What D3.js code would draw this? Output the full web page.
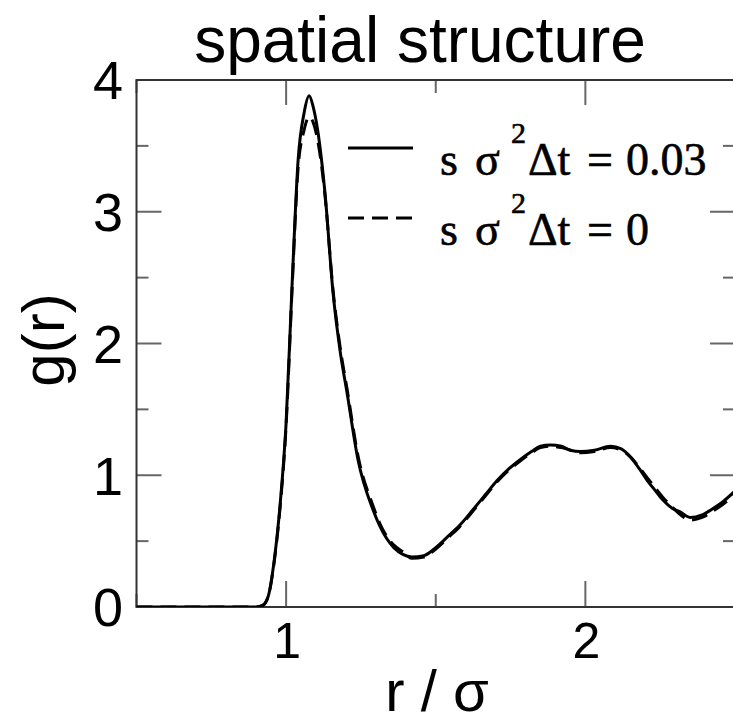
<!DOCTYPE html>
<html><head><meta charset="utf-8">
<script src="https://cdn.jsdelivr.net/npm/d3@7/dist/d3.min.js"></script>
<style>body{margin:0;background:#fff}svg{display:block}</style>
</head><body>
<script>
// ---- data ----
const rSolid = [0.50,0.90,0.92,0.94,0.96,0.98,1.00,1.02,1.04,1.06,1.077,1.09,1.104,1.13,1.157,1.18,1.204,1.24,1.29,1.314,1.36,1.39,1.42,1.46,1.50,1.538,1.58,1.625,1.665,1.705,1.745,1.783,1.82,1.85,1.883,1.92,1.95,1.983,2.03,2.084,2.12,2.15,2.18,2.207,2.235,2.26,2.29,2.318,2.35,2.39,2.428,2.46,2.50];
const gSolid = [0,0,0.01,0.08,0.35,0.78,1.40,2.45,3.39,3.75,3.88,3.80,3.64,3.14,2.38,1.95,1.62,1.12,0.74,0.61,0.45,0.40,0.38,0.39,0.45,0.53,0.62,0.74,0.85,0.96,1.05,1.12,1.18,1.22,1.23,1.22,1.19,1.18,1.19,1.22,1.20,1.14,1.05,0.96,0.88,0.81,0.75,0.72,0.68,0.70,0.75,0.80,0.88];
const rDash = rSolid;
const gDash = [0,0,0.01,0.08,0.34,0.76,1.38,2.42,3.33,3.62,3.72,3.68,3.56,3.12,2.40,1.98,1.65,1.15,0.77,0.63,0.47,0.42,0.37,0.38,0.44,0.52,0.61,0.73,0.84,0.95,1.04,1.11,1.17,1.21,1.22,1.21,1.19,1.17,1.18,1.21,1.19,1.14,1.06,0.98,0.90,0.83,0.76,0.70,0.66,0.68,0.73,0.78,0.85];
const xTicksMajor = [1, 2];
const xTicksMinor = [0.5, 1.5, 2.5];
const yTicksMajor = [0, 1, 2, 3, 4];
const yTicksMinor = [0.5, 1.5, 2.5, 3.5];
const seriesNames = ["0.03", "0"];

const W = 733, H = 727;
const svg = d3.select("body").append("svg").attr("width", W).attr("height", H);
const L = 136.5, R = 735, T = 80, B = 607;
const x = d3.scaleLinear().domain([0.5, 2.5]).range([L, R]);
const y = d3.scaleLinear().domain([0, 4]).range([B, T]);

const tickCol = "#666", axCol = "#333";
const sans = "'Liberation Sans', Arial, sans-serif";
const serif = "'Liberation Serif', 'Times New Roman', serif";

// ticks (inward, all four sides)
const tk = svg.append("g").attr("stroke", tickCol).attr("stroke-width", 2);
xTicksMajor.forEach(v => {
  tk.append("line").attr("x1", x(v)).attr("x2", x(v)).attr("y1", B).attr("y2", B - 26);
  tk.append("line").attr("x1", x(v)).attr("x2", x(v)).attr("y1", T).attr("y2", T + 25);
});
xTicksMinor.forEach(v => {
  tk.append("line").attr("x1", x(v)).attr("x2", x(v)).attr("y1", B).attr("y2", B - 13);
  tk.append("line").attr("x1", x(v)).attr("x2", x(v)).attr("y1", T).attr("y2", T + 13);
});
yTicksMajor.forEach(v => {
  tk.append("line").attr("x1", L).attr("x2", L + 25).attr("y1", y(v)).attr("y2", y(v));
  tk.append("line").attr("x1", R).attr("x2", R - 25).attr("y1", y(v)).attr("y2", y(v));
});
yTicksMinor.forEach(v => {
  tk.append("line").attr("x1", L).attr("x2", L + 12).attr("y1", y(v)).attr("y2", y(v));
  tk.append("line").attr("x1", R).attr("x2", R - 12).attr("y1", y(v)).attr("y2", y(v));
});

// frame
svg.append("rect").attr("x", L).attr("y", T).attr("width", R - L).attr("height", B - T)
  .attr("fill", "none").attr("stroke", axCol).attr("stroke-width", 2);

// tick labels
svg.append("g").selectAll("text").data(yTicksMajor).join("text")
  .attr("x", 123).attr("y", d => y(d)).attr("dy", "0.36em")
  .attr("text-anchor", "end").attr("font-family", sans).attr("font-size", 54)
  .text(d => d);
svg.append("g").selectAll("text").data(xTicksMajor).join("text")
  .attr("x", d => x(d) + 1).attr("y", 658)
  .attr("text-anchor", "middle").attr("font-family", sans).attr("font-size", 50)
  .text(d => d);

// curves
svg.append("clipPath").attr("id", "clip").append("rect")
  .attr("x", L).attr("y", T).attr("width", R - L).attr("height", B - T);
const line = d3.line().x(d => x(d[0])).y(d => y(d[1])).curve(d3.curveMonotoneX);
const g = svg.append("g").attr("clip-path", "url(#clip)");
g.append("path").datum(rDash.map((r, i) => [r, gDash[i]]))
  .attr("d", line).attr("fill", "none").attr("stroke", "#000").attr("stroke-width", 3)
  .attr("stroke-dasharray", "16,8");
g.append("path").datum(rSolid.map((r, i) => [r, gSolid[i]]))
  .attr("d", line).attr("fill", "none").attr("stroke", "#000").attr("stroke-width", 3);

// legend
const leg = svg.append("g");
seriesNames.forEach((nm, i) => {
  const ly = 148 + i * 70, by = 175 + i * 70;
  leg.append("line").attr("x1", 348).attr("x2", 413).attr("y1", ly).attr("y2", ly)
    .attr("stroke", "#000").attr("stroke-width", 3)
    .attr("stroke-dasharray", i === 1 ? "16,8" : null);
  const t = leg.append("text").attr("font-family", serif).attr("font-size", 46).attr("y", by)
    .attr("stroke", "#000").attr("stroke-width", 0.6);
  t.append("tspan").attr("x", 440).text("s");
  t.append("tspan").attr("x", 475).text("σ");
  t.append("tspan").attr("x", 511).attr("y", by - 32).attr("font-size", 30).text("2");
  t.append("tspan").attr("x", 528).attr("y", by).text("Δt");
  t.append("tspan").attr("x", 587).text("=");
  t.append("tspan").attr("x", 626).text(nm);
});

// titles
svg.append("text").attr("x", 420).attr("y", 62).attr("text-anchor", "middle")
  .attr("font-family", sans).attr("font-size", 64).text("spatial structure");
svg.append("text").attr("x", 437).attr("y", 711).attr("text-anchor", "middle")
  .attr("font-family", sans).attr("font-size", 58).text("r / σ");
svg.append("text").attr("transform", "translate(64,340) rotate(-90)").attr("text-anchor", "middle")
  .attr("font-family", sans).attr("font-size", 60).text("g(r)");
</script>
</body></html>
